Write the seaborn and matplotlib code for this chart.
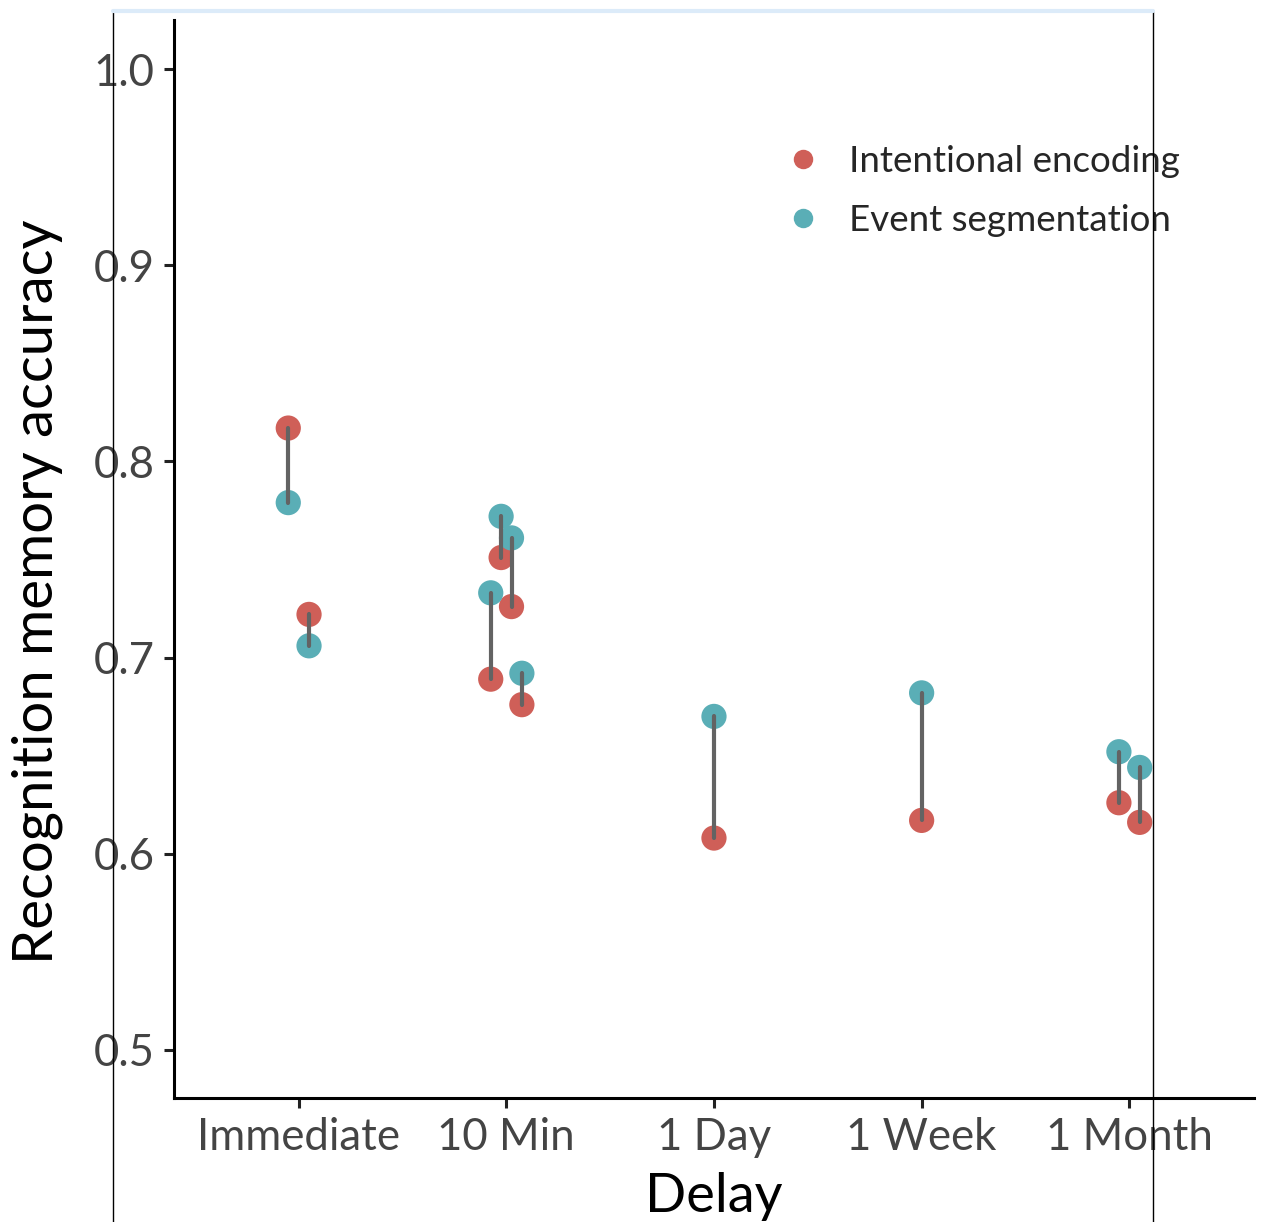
#!/usr/bin/env python3

from matplotlib import pyplot as plt
from matplotlib.lines import Line2D
import numpy as np
import pandas as pd
import seaborn as sns

delays = ["Immediate", "10 Min", "1 Day", "1 Week", "1 Month"]
# which delay each study belongs to (left to right)
study_delay = [0, 0, 1, 1, 1, 1, 2, 3, 4, 4]
intentional = [0.817, 0.722, 0.689, 0.751, 0.726, 0.676, 0.608, 0.617, 0.626, 0.616]
segmentation = [0.779, 0.706, 0.733, 0.772, 0.761, 0.692, 0.670, 0.682, 0.652, 0.644]
conditions = ["Intentional encoding", "Event segmentation"]


def main():
    # dodge studies sharing a delay
    xpos = []
    for d in range(len(delays)):
        n = study_delay.count(d)
        w = 0.05 if n == 2 else 0.075
        xpos += list(np.linspace(-w, w, n) + d if n > 1 else [d])

    df = pd.DataFrame({
        "x": xpos * 2,
        "study": list(range(len(xpos))) * 2,
        "condition": [conditions[0]] * len(xpos) + [conditions[1]] * len(xpos),
        "acc": intentional + segmentation,
    })

    sns.set_theme(style="ticks")
    plt.rcParams["font.family"] = ["Lato", "DejaVu Sans"]

    fig = plt.figure(figsize=(12.64, 12.22), dpi=100)
    ax = fig.add_axes([0.1377, 0.1015, 0.8543, 0.8821])

    palette = {conditions[0]: "#CF5F58", conditions[1]: "#5AAEB6"}
    sns.scatterplot(data=df, x="x", y="acc", hue="condition", palette=palette,
                    s=330, linewidth=0, ax=ax, legend=False, zorder=2)
    sns.lineplot(data=df, x="x", y="acc", units="study", estimator=None,
                 color="#636363", linewidth=3, ax=ax, zorder=3)

    ax.set_xlim(-0.6, 4.6)
    ax.set_ylim(0.4755, 1.025)
    ax.set_xticks(range(len(delays)))
    ax.set_xticklabels(delays)
    ax.set_yticks([0.5, 0.6, 0.7, 0.8, 0.9, 1.0])
    ax.tick_params(labelsize=31.5, colors="#222222", labelcolor="#444444",
                   width=2.2, length=7, pad=7)
    for s in ["left", "bottom"]:
        ax.spines[s].set_linewidth(2.2)
        ax.spines[s].set_color("black")
    sns.despine(ax=ax)
    ax.set_xlabel("Delay", fontsize=39, color="black", labelpad=10)
    ax.set_ylabel("Recognition memory accuracy", fontsize=40.5, color="black")
    ax.yaxis.set_label_coords(-0.103, 0.47)

    handles = [Line2D([], [], marker="o", linestyle="", markersize=14,
                      markerfacecolor=palette[c], markeredgewidth=0)
               for c in conditions]
    ax.legend(handles, conditions, loc="upper left", frameon=False,
              bbox_to_anchor=(0.518, 0.915), fontsize=26.5, labelspacing=0.7,
              handletextpad=0.25)

    # stray border lines from the source screenshot
    fig.add_artist(Line2D([113 / 1264, 113 / 1264], [0, 1 - 10 / 1222],
                          color="black", linewidth=1))
    fig.add_artist(Line2D([1153 / 1264, 1153 / 1264], [0, 1 - 10 / 1222],
                          color="black", linewidth=1))
    fig.add_artist(Line2D([113 / 1264, 1153 / 1264], [1 - 11 / 1222, 1 - 11 / 1222],
                          color="#DCEBF9", linewidth=3))

    plt.savefig("out.png", dpi=100)


if __name__ == "__main__":
    main()
